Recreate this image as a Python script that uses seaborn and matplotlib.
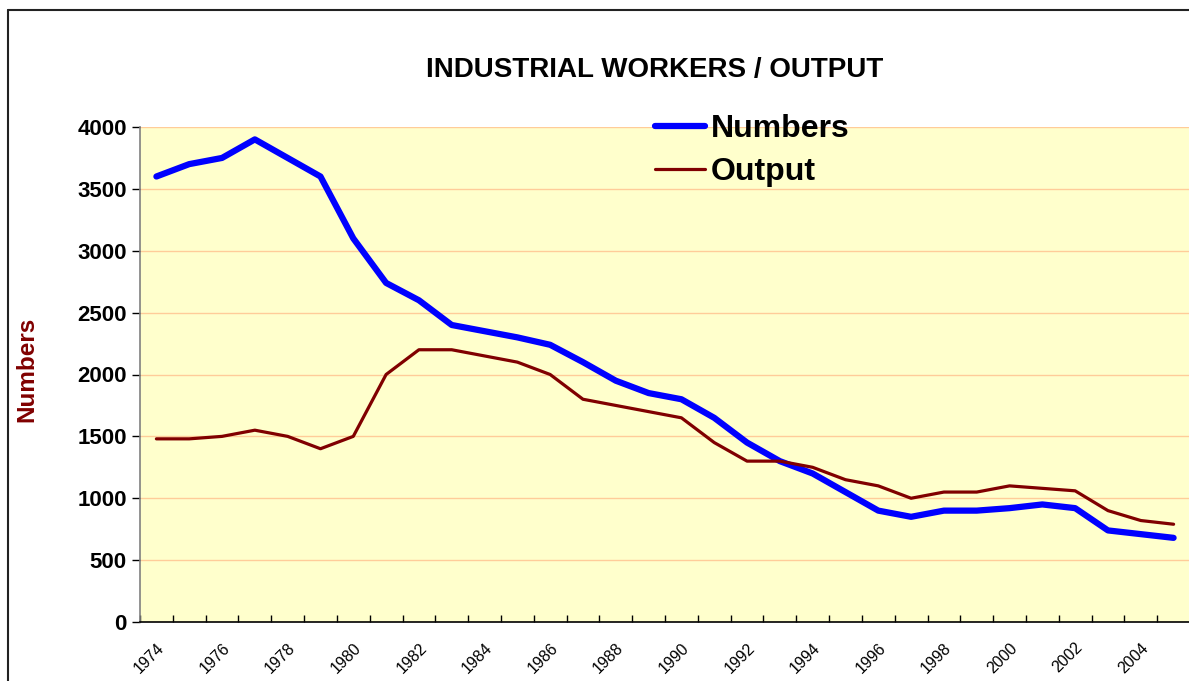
import matplotlib
matplotlib.use("Agg")
import matplotlib.pyplot as plt
import matplotlib.ticker as mticker
from matplotlib.lines import Line2D
import pandas as pd
import seaborn as sns

years = list(range(1974, 2006))
numbers = [3600, 3700, 3750, 3900, 3750, 3600, 3100, 2740, 2600, 2400,
           2350, 2300, 2240, 2100, 1950, 1850, 1800, 1650, 1450, 1300,
           1200, 1050, 900, 850, 900, 900, 920, 950, 920, 740,
           710, 680]
output = [1480, 1480, 1500, 1550, 1500, 1400, 1500, 2000, 2200, 2200,
          2150, 2100, 2000, 1800, 1750, 1700, 1650, 1450, 1300, 1300,
          1250, 1150, 1100, 1000, 1050, 1050, 1100, 1080, 1060, 900,
          820, 790]
year_labels = [str(y) for y in range(1974, 2006, 2)]

df = pd.DataFrame({"Year": years, "Numbers": numbers, "Output": output})

sns.set_style("white")
plt.rcParams["font.family"] = ["Liberation Sans", "DejaVu Sans"]
plt.rcParams["text.color"] = "black"
plt.rcParams["xtick.color"] = "black"
plt.rcParams["ytick.color"] = "black"
plt.rcParams["axes.labelcolor"] = "black"

W, H = 1189, 681
fig = plt.figure(figsize=(W / 100, H / 100), dpi=100)
ax = fig.add_axes([140 / W, 59 / H, 1050 / W, 495 / H])
ax.set_facecolor("#FFFFCC")

sns.lineplot(data=df, x="Year", y="Numbers", ax=ax, color="#0000FF",
             linewidth=4.5, label="Numbers")
sns.lineplot(data=df, x="Year", y="Output", ax=ax, color="#800000",
             linewidth=2.3, label="Output")

ax.set_xlim(1973.5, 2005.5)
ax.set_ylim(0, 4000)
ax.yaxis.set_major_locator(mticker.MultipleLocator(500))
ax.grid(axis="y", color="#FFCC99", linewidth=1)
ax.set_axisbelow(True)

ax.set_xticks(list(range(1974, 2006, 2)))
ax.set_xticklabels(year_labels, rotation=45, ha="right",
                   rotation_mode="anchor", fontsize=11.5)
ax.xaxis.set_minor_locator(mticker.FixedLocator([y - 0.5 for y in years] + [2005.5]))
ax.tick_params(axis="x", which="major", length=0, pad=13, bottom=True)
ax.tick_params(axis="x", which="minor", direction="in", length=5,
               width=1, color="black", bottom=True)
ax.tick_params(axis="y", direction="out", length=6, width=1, color="black",
               labelsize=16, left=True)
for lab in ax.get_yticklabels():
    lab.set_fontweight("bold")

for s in ["top", "right"]:
    ax.spines[s].set_visible(False)
ax.spines["left"].set_color("#808080")
ax.spines["left"].set_linewidth(1.2)
ax.spines["bottom"].set_color("black")
ax.spines["bottom"].set_linewidth(1.2)

ax.set_xlabel("")
ax.set_ylabel("Numbers", color="#800000", fontsize=17.5, fontweight="bold")
ax.yaxis.set_label_coords(-0.097, 0.51)

fig.text(655 / W, 1 - 70 / H, "INDUSTRIAL WORKERS / OUTPUT",
         ha="center", va="center", fontsize=20, fontweight="bold")

ax.legend(loc="upper left", bbox_to_anchor=(655 / W, 1 - 114 / H),
          bbox_transform=fig.transFigure, frameon=False,
          prop={"weight": "bold", "size": 23}, handlelength=1.55,
          handletextpad=0.2, labelspacing=0.4, borderpad=0,
          borderaxespad=0)

# outer chart-area border (cut off on the right and bottom)
fig.add_artist(Line2D([8 / W, 8 / W], [0, 1 - 10 / H], color="#222222",
                      linewidth=1.5, transform=fig.transFigure))
fig.add_artist(Line2D([8 / W, 1], [1 - 10 / H, 1 - 10 / H], color="#222222",
                      linewidth=1.5, transform=fig.transFigure))

fig.savefig("out.png", dpi=100)
